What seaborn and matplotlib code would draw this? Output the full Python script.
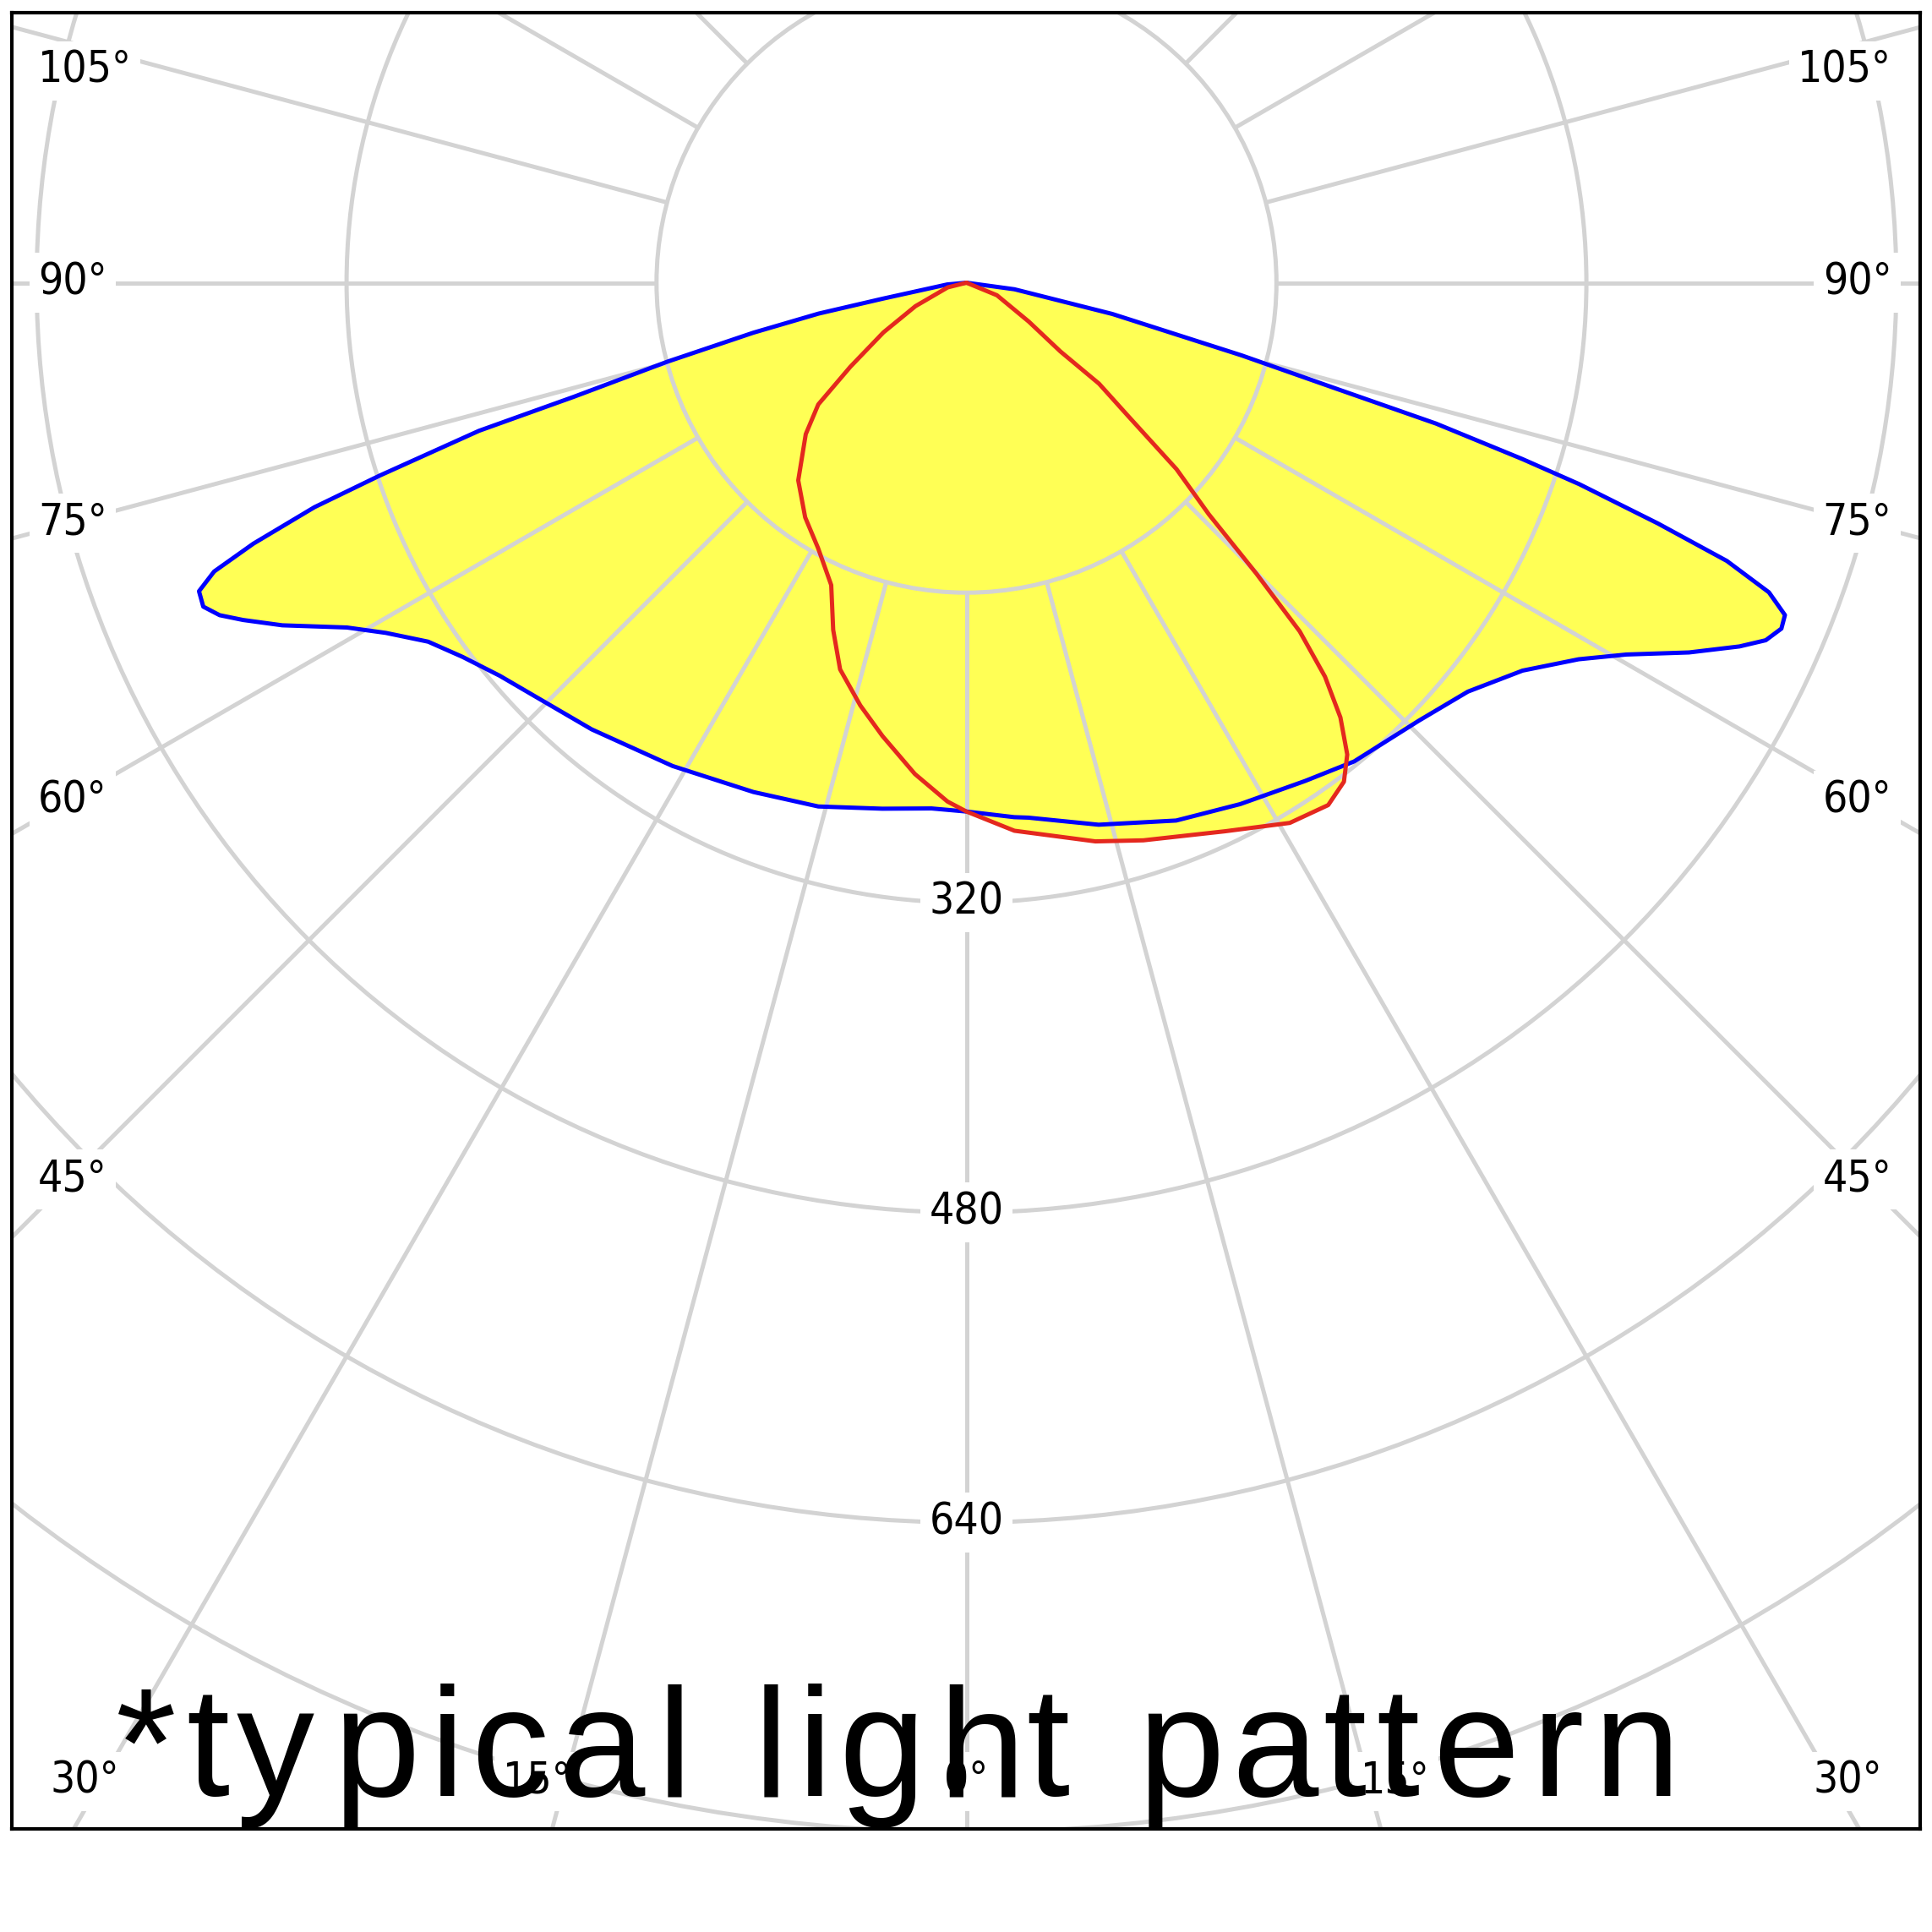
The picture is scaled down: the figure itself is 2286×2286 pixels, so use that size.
''' Polar light distribution curve (photometric diagram) '''

import matplotlib
matplotlib.use("Agg")
import matplotlib.pyplot as plt
import numpy as np
import pandas as pd
import seaborn as sns
from matplotlib import font_manager
from matplotlib.ft2font import FT2Font

# luminous intensity, gamma in degrees from nadir
c0_gamma = [0, 5.1, 6.6, 13.7, 21.3, 27.7, 34.2, 39.0, 45.9, 50.8, 55.1, 58.4, 60.6, 62.9,
            64.8, 65.9, 67.0, 67.9, 68.9, 69.9, 70.8, 71.8, 72.4, 73.3, 74.0, 75.2, 77.9, 82.2, 90]
c0_cd = [273, 277, 278, 288, 298, 304, 311, 318, 325, 334, 350, 371, 391, 419,
         441, 452, 457, 456, 444, 418, 378, 333, 301, 253, 199, 147, 77, 25, 0]

c180_gamma = [0, 3.8, 9.1, 15.8, 22.7, 31.3, 40.0, 49.9, 53.4, 56.3, 58.9, 60.9, 63.4, 65.0,
              66.0, 67.0, 68.1, 69.0, 69.9, 71.0, 71.8, 73.1, 73.8, 75.2, 76.8, 78.2, 79.2, 84.8, 90]
c180_cd = [273, 272, 275, 281, 285, 292, 301, 315, 324, 334, 350, 366, 395, 412,
           422, 428, 427, 416, 392, 356, 319, 263, 211, 160, 113, 78, 44, 10, 0]

c90_gamma = [0, 5.0, 13.0, 17.6, 25.2, 30.9, 34.7, 37.1, 38.9, 40.7, 42.3, 43.7, 44.9, 46.3,
             48.4, 50.5, 52.7, 53.8, 58.0, 67.6, 90]
c90_cd = [273, 284, 296, 302, 313, 325, 328, 323, 313, 296, 275, 249, 212, 173,
          145, 108, 86, 60, 38, 17, 0]

c270_gamma = [0, 2.1, 6.0, 10.5, 14.1, 18.1, 21.0, 24.1, 29.2, 34.5, 40.4, 46.7, 50.6, 54.1,
              59.1, 65.3, 76.0, 90]
c270_cd = [273, 268, 255, 238, 225, 210, 192, 171, 157, 147, 134, 114, 99, 74,
           50, 29, 10, 0]

ring_values = [160, 320, 480, 640, 800, 960, 1120, 1280]
ring_labels = [320, 480, 640]
spoke_angles = list(range(-180, 181, 15))
angle_labels = [-105, -90, -75, -60, -45, -30, -15, 0, 15, 30, 45, 60, 75, 90, 105]
caption = "*typical light pattern"

YELLOW = "#ffff55"
GRID = "#d3d3d3"


def outline(g_left, cd_left, g_right, cd_right):
    ''' Junta os dois semiplanos numa curva fechada em coordenadas x, y '''
    gl = np.radians(g_left)[::-1]
    rl = np.asarray(cd_left, float)[::-1]
    gr = np.radians(g_right)[1:]
    rr = np.asarray(cd_right, float)[1:]
    x = np.concatenate([-rl * np.sin(gl), rr * np.sin(gr)])
    y = np.concatenate([-rl * np.cos(gl), -rr * np.cos(gr)])
    return x, y


def main():
    sns.set_theme(style="white")
    plt.rcParams["font.family"] = ["DejaVu Sans"]

    # condensed DejaVu is closer to the narrow labels, if it is installed
    has_condensed = any(f.name == "DejaVu Sans" and f.stretch == "condensed"
                        for f in font_manager.fontManager.ttflist)
    label_stretch = "condensed" if has_condensed else "normal"
    label_size = 37 if has_condensed else 35

    W = 2286
    fig = plt.figure(figsize=(W / 100, W / 100), dpi=100)
    fig.patch.set_facecolor("white")

    # frame in pixels: left 14, right 2272, top 15, bottom 2164
    ax = fig.add_axes([14 / W, (W - 2164) / W, (2272 - 14) / W, (2164 - 15) / W])
    xmin, xmax = -492.8, 492.3
    ymin, ymax = -798.2, 139.4
    ax.set_xlim(xmin, xmax)
    ax.set_ylim(ymin, ymax)
    ax.set_xticks([])
    ax.set_yticks([])
    for sp in ax.spines.values():
        sp.set_color("black")
        sp.set_linewidth(3)
        sp.set_zorder(10)

    bx, by = outline(c180_gamma, c180_cd, c0_gamma, c0_cd)
    rx, ry = outline(c270_gamma, c270_cd, c90_gamma, c90_cd)

    ax.fill(bx, by, color=YELLOW, lw=0, zorder=1)
    ax.fill(rx, ry, color=YELLOW, lw=0, zorder=1)

    # polar grid
    for r in ring_values:
        ax.add_patch(plt.Circle((0, 0), r, fill=False, ec=GRID, lw=3.6, zorder=2))
    for a in spoke_angles:
        g = np.radians(a)
        ax.plot([160 * np.sin(g), 1500 * np.sin(g)], [-160 * np.cos(g), -1500 * np.cos(g)],
                color=GRID, lw=3.6, zorder=2, solid_capstyle="butt")

    curves = pd.concat([
        pd.DataFrame({"x": bx, "y": by, "plane": "C0-C180"}),
        pd.DataFrame({"x": rx, "y": ry, "plane": "C90-C270"}),
    ])
    sns.lineplot(data=curves, x="x", y="y", hue="plane", units="plane", estimator=None,
                 sort=False, palette={"C0-C180": "#0000ff", "C90-C270": "#e4281e"},
                 lw=3.6, legend=False, ax=ax, zorder=3)
    ax.set_xlabel("")
    ax.set_ylabel("")

    box = dict(boxstyle="square,pad=0.2", fc="white", ec="none")
    label_font = dict(fontsize=label_size, family=["DejaVu Sans"], fontstretch=label_stretch,
                      color="black", zorder=4)

    for v in ring_labels:
        ax.text(0, -v, str(v), ha="center", va="center", bbox=box, **label_font)

    bottom_y = -773.7
    top_y = 109.3
    for a in angle_labels:
        g = np.radians(a)
        s, c = np.sin(g), -np.cos(g)
        text = f"{abs(a)}°"
        if c < 0 and abs(ymin / c * s) < xmax:
            x = bottom_y / c * s + np.sign(s) * 14
            x = float(np.clip(x, -455, 455))
            ax.text(x, bottom_y, text, ha="center", va="center", bbox=box, **label_font)
        else:
            xc = np.sign(s) * 463
            y = min(xc / s * c, top_y)
            if s < 0:
                ax.text(-479.2, y, text, ha="left", va="center", bbox=box, **label_font)
            else:
                ax.text(477.6, y, text, ha="right", va="center", bbox=box, **label_font)

    # caption with letter spacing
    cap_size = 132.5
    tracking = 11.2
    path = font_manager.findfont(font_manager.FontProperties(family="Liberation Sans"))
    ft = FT2Font(path, hinting_factor=1)
    ft.set_size(cap_size, 100)
    pen = None
    base = 1 - 2125 / W
    for ch in caption:
        glyph = ft.load_char(ord(ch))
        adv = glyph.linearHoriAdvance / 65536
        bear = glyph.horiBearingX / 64
        if pen is None:
            pen = 136.7 - bear
        if ch != " ":
            fig.text((pen + bear) / W, base, ch, fontsize=cap_size, family=["Liberation Sans"],
                     ha="left", va="baseline", color="black", zorder=20)
        pen += adv + tracking

    fig.savefig("out.png", dpi=100, facecolor="white")


if __name__ == "__main__":
    main()
